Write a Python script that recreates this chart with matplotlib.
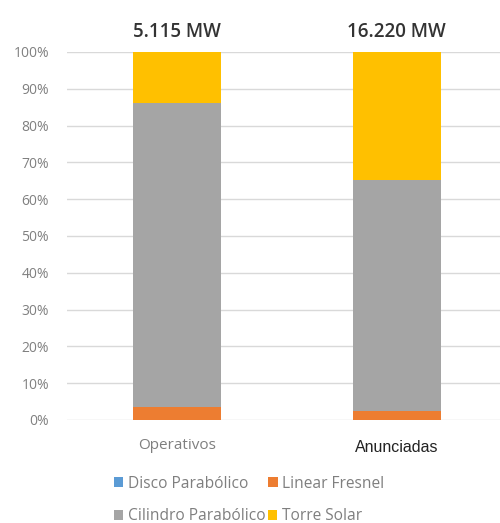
import matplotlib.pyplot as plt
from matplotlib.patches import Patch

categories = ["Operativos", "Anunciadas"]
totals = ["5.115 MW", "16.220 MW"]
series_names = ["Disco Parabólico", "Linear Fresnel", "Cilindro Parabólico", "Torre Solar"]
disco = [0.0, 0.0]
fresnel = [3.5, 2.5]
cilindro = [82.7, 62.8]
torre = [13.8, 34.7]
colors = ["#5B9BD5", "#ED7D31", "#A5A5A5", "#FFC000"]

plt.rcParams['font.family'] = ['Open Sans', 'DejaVu Sans']

fig = plt.figure(figsize=(5.0, 5.23), dpi=100)
ax = fig.add_axes([0.134, 0.197, 0.866, 0.7036])

x = list(range(len(categories)))
bottom = [0.0, 0.0]
for vals, col in zip([disco, fresnel, cilindro, torre], colors):
    ax.bar(x, vals, width=0.4, bottom=bottom, color=col, zorder=3)
    bottom = [b + v for b, v in zip(bottom, vals)]

ax.set_xlim(-0.5, 1.47)
ax.set_ylim(0, 100)
ax.set_yticks(range(0, 101, 10))
ax.set_yticklabels([f"{t}%" for t in range(0, 101, 10)], fontsize=10, color="#808080")
ax.yaxis.grid(True, color="#D9D9D9", linewidth=1, zorder=0)
ax.tick_params(axis="both", length=0, pad=13)
ax.set_xticks(x)
ax.set_xticklabels([])
for s in ax.spines.values():
    s.set_visible(False)

# category labels
ax.text(0, -7.0, categories[0], ha="center", va="center", fontsize=11, color="#7f7f7f")
ax.text(1, -7.6, categories[1], ha="center", va="center", fontsize=11.5, color="#222222",
        family=["Liberation Sans", "DejaVu Sans"])

# totals above bars
for xi, t in zip(x, totals):
    ax.text(xi, 105.5, t, ha="center", va="center", fontsize=13.5, color="#333333",
            fontweight="semibold")

# legend, two rows like the Excel wrap
h = [Patch(facecolor=c, edgecolor="none") for c in colors]
kw = dict(frameon=False, fontsize=11.2, handlelength=0.6, handleheight=0.6,
          handletextpad=0.3, labelcolor="#7f7f7f", borderaxespad=0, ncol=2)
fig.legend(h[:2], series_names[:2], loc="center left", bbox_to_anchor=(0.215, 0.075),
           columnspacing=1.3, **kw)
fig.legend(h[2:], series_names[2:], loc="center left", bbox_to_anchor=(0.215, 0.013),
           columnspacing=0.15, **kw)

fig.savefig("out.png", dpi=100)
